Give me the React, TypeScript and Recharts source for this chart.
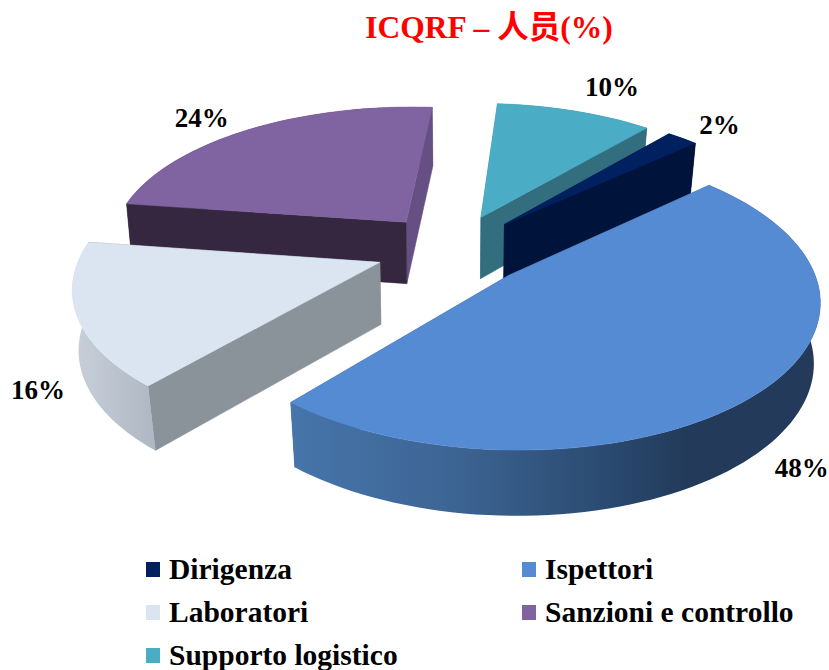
import { PieChart, Pie, Legend } from 'recharts'

const categories = ['Dirigenza', 'Ispettori', 'Laboratori', 'Sanzioni e controllo', 'Supporto logistico']
const shares = [2, 48, 16, 24, 10]
const topColors = ['#002060', '#548bd3', '#dbe5f1', '#8064a2', '#4bacc6']
const startWallColors = ['#00133a', '#3a6190', '#8a929a', '#35273f', '#3d8fa5']
const endWallColors = ['#00133a', '#3a6190', '#8a929a', '#664f82', '#336e7f']
const arcWallStops = [
  [['0', '#00133a'], ['1', '#00133a']],
  [['0', '#4675ab'], ['0.3', '#3d6594'], ['0.6', '#2a4a70'], ['0.75', '#233a5a'], ['1', '#233a5a']],
  [['0', '#c9d0da'], ['1', '#aeb7c3']],
  [['0', '#35273f'], ['0.88', '#35273f'], ['0.89', '#664f82'], ['1', '#664f82']],
  [['0', '#336e7f'], ['1', '#336e7f']],
]
const labelOffsets = [[37, -13], [40, 77], [-39, 74], [-47, -12], [37, -24]]

// slices are painted back to front, the clockwise order stays the same
const paintOrder = [3, 4, 0, 1, 2]
const FIRST_ANGLE = -188.2

const pieData = paintOrder.map((i) => ({
  name: categories[i],
  value: shares[i],
  fill: topColors[i],
  source: i,
}))

const TILT = 0.47
const PERSPECTIVE = 0.15
const EXPLODE = 0.257
const DEPTH = 62
const rad = (a: number) => (a * Math.PI) / 180

function project(cx: number, cy: number, r: number, u: number, v: number) {
  const w = 1 + PERSPECTIVE * v
  const x = cx + (r * u) / w
  const y = cy - (r * TILT * v) / w
  const drop = DEPTH / Math.pow(w, 0.3)
  const lean = 0.013 + 0.013 * Math.abs(v)
  return { x, y, bx: x + (cx - x) * lean, by: y + drop }
}

function rimPoint(cx: number, cy: number, r: number, mid: number, angle: number) {
  const u = EXPLODE * Math.cos(rad(mid)) + Math.cos(rad(angle))
  const v = EXPLODE * Math.sin(rad(mid)) + Math.sin(rad(angle))
  return project(cx, cy, r, u, v)
}

function Slice3D(props: any) {
  const { cx, cy, outerRadius: r, startAngle, endAngle, index, fill } = props
  const source = paintOrder[index]
  const mid = (startAngle + endAngle) / 2
  const apex = project(cx, cy, r, EXPLODE * Math.cos(rad(mid)), EXPLODE * Math.sin(rad(mid)))
  const steps = Math.max(2, Math.ceil(Math.abs(startAngle - endAngle) / 2))
  const rim = Array.from({ length: steps + 1 }, (_, k) =>
    rimPoint(cx, cy, r, mid, startAngle + ((endAngle - startAngle) * k) / steps),
  )
  const first = rim[0]
  const last = rim[rim.length - 1]
  const quad = (p: any) => `M${apex.x},${apex.y}L${p.x},${p.y}L${p.bx},${p.by}L${apex.bx},${apex.by}Z`
  const walls = [
    { p: first, color: startWallColors[source] },
    { p: last, color: endWallColors[source] },
  ].sort((a, b) => a.p.y - b.p.y)
  const arcWall =
    rim.map((p, k) => `${k ? 'L' : 'M'}${p.x},${p.y}`).join('') +
    [...rim].reverse().map((p) => `L${p.bx},${p.by}`).join('') +
    'Z'
  const top = `M${apex.x},${apex.y}` + rim.map((p) => `L${p.x},${p.y}`).join('') + 'Z'
  const gradId = `arc-wall-${source}`
  return (
    <g>
      <defs>
        <linearGradient id={gradId} x1="0" y1="0" x2="1" y2="0">
          {arcWallStops[source].map(([o, c]) => (
            <stop key={o} offset={o} stopColor={c} />
          ))}
        </linearGradient>
      </defs>
      {walls.map((w, k) => (
        <path key={k} d={quad(w.p)} fill={w.color} stroke={w.color} strokeWidth={0.5} />
      ))}
      <path d={arcWall} fill={`url(#${gradId})`} />
      <path d={top} fill={fill} stroke={fill} strokeWidth={0.5} />
    </g>
  )
}

const LABEL_FONT = '"Liberation Serif", serif'

function renderLabel(props: any) {
  const { cx, cy, outerRadius: r, midAngle, index, value } = props
  const source = paintOrder[index]
  const p = rimPoint(cx, cy, r, midAngle, midAngle)
  const [dx, dy] = labelOffsets[source]
  return (
    <text
      x={p.x + dx}
      y={p.y + dy}
      textAnchor="middle"
      dominantBaseline="central"
      fontFamily={LABEL_FONT}
      fontWeight="bold"
      fontSize={27}
      fill="#000"
    >
      {value}%
    </text>
  )
}

const legendLeft = [146, 522]
const legendTop = [560, 603, 646]

function LegendBlock() {
  return (
    <div style={{ position: 'relative', width: 829, height: 125 }}>
      {categories.map((name, i) => (
        <div
          key={name}
          style={{
            position: 'absolute',
            left: legendLeft[i % 2],
            top: legendTop[Math.floor(i / 2)] - 545,
            display: 'flex',
            alignItems: 'center',
            height: 18,
            whiteSpace: 'nowrap',
            fontFamily: LABEL_FONT,
            fontWeight: 'bold',
            fontSize: 29.5,
            color: '#000',
          }}
        >
          <span style={{ width: 14, height: 15, background: topColors[i], marginRight: 9 }} />
          {name}
        </div>
      ))}
    </div>
  )
}

export default function App() {
  return (
    <div style={{ position: 'absolute', left: 0, top: 0, width: 829, height: 670, background: '#fff' }}>
      <PieChart width={829} height={670} margin={{ top: 0, right: 0, bottom: 0, left: 0 }}>
        <text x={489} y={38} textAnchor="middle" fill="#ff0000" fontWeight="bold" fontSize={31.5} fontFamily={LABEL_FONT + ', "Noto Sans CJK SC"'}>
          ICQRF – 人员(%)
        </text>
        <Pie
          data={pieData}
          dataKey="value"
          nameKey="name"
          cx={452.5}
          cy={249.5}
          outerRadius={298}
          startAngle={FIRST_ANGLE}
          endAngle={FIRST_ANGLE - 360}
          stroke="none"
          shape={Slice3D}
          label={renderLabel}
          labelLine={false}
          isAnimationActive={false}
        />
        <Legend
          content={<LegendBlock />}
          wrapperStyle={{ position: 'absolute', left: 0, top: 545, width: 829, height: 125 }}
        />
      </PieChart>
    </div>
  )
}
